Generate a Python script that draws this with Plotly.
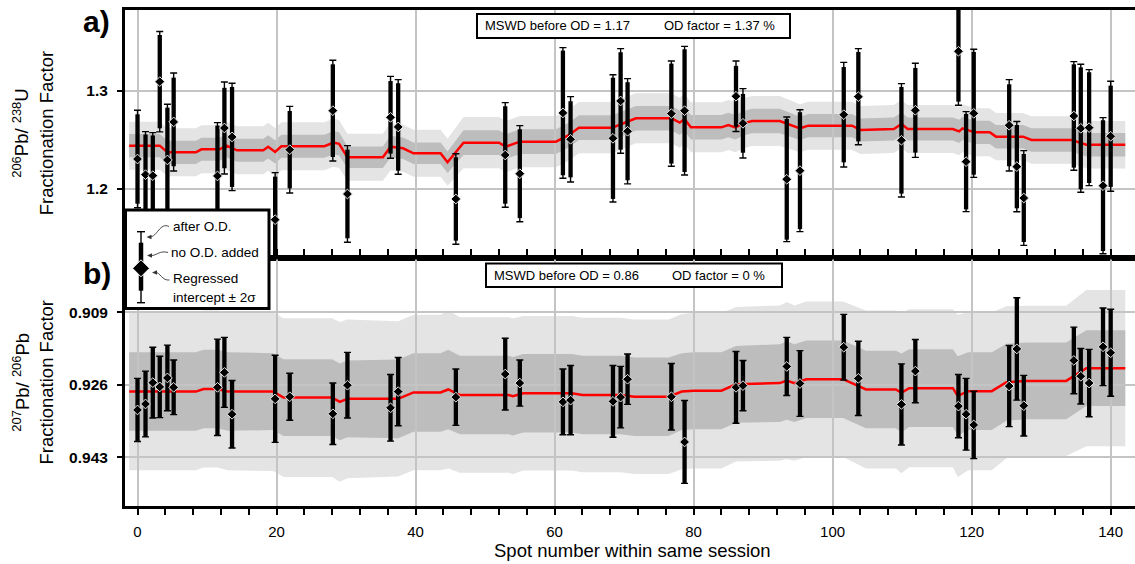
import plotly.graph_objects as go

# ---------------- data ----------------
SPOT = [0.0, 1.15, 2.2, 3.2, 4.3, 5.2, 11.5, 12.5, 13.6, 19.8, 21.9, 28.1, 30.2,
        36.4, 37.5, 45.8, 52.9, 55.0, 61.2, 62.3, 68.4, 69.5, 70.5, 76.8, 78.7,
        86.1, 87.1, 93.4, 95.3, 101.6, 103.7, 109.9, 111.9, 118.1, 119.2, 120.3,
        125.4, 126.5, 127.5, 134.7, 135.7, 136.9, 138.9, 140.0]

# panel a) 206Pb/238U
TOP_VAL = [1.2306, 1.2146, 1.2136, 1.3095, 1.2296, 1.2684, 1.2133, 1.2622, 1.2531,
           1.1687, 1.2401, 1.2799, 1.1949, 1.2731, 1.2633, 1.1898, 1.2347, 1.2156,
           1.2776, 1.2507, 1.2517, 1.2898, 1.2589, 1.2769, 1.2799, 1.2946, 1.2670,
           1.2099, 1.2187, 1.2758, 1.2942, 1.2497, 1.2803, 1.3405, 1.2279, 1.2772,
           1.2650, 1.2228, 1.1908, 1.2745, 1.2619, 1.2626, 1.2034, 1.2538]
TOP_ERR_OD = [0.0497, 0.0439, 0.0439, 0.0512, 0.0568, 0.0500, 0.0544, 0.0469, 0.0548,
              0.0480, 0.0442, 0.0514, 0.0493, 0.0418, 0.0483, 0.0462, 0.0534, 0.0490,
              0.0666, 0.0435, 0.0649, 0.0534, 0.0537, 0.0537, 0.0656, 0.0360, 0.0354,
              0.0636, 0.0622, 0.0534, 0.0490, 0.0578, 0.0480, 0.0551, 0.0510, 0.0653,
              0.0466, 0.0460, 0.0483, 0.0554, 0.0653, 0.0592, 0.0694, 0.0561]
TOP_ERR = [0.0456, 0.0410, 0.0410, 0.0476, 0.0534, 0.0452, 0.0514, 0.0410, 0.0510,
           0.0439, 0.0395, 0.0473, 0.0452, 0.0370, 0.0446, 0.0425, 0.0497, 0.0453,
           0.0636, 0.0388, 0.0618, 0.0497, 0.0500, 0.0510, 0.0626, 0.0310, 0.0300,
           0.0616, 0.0596, 0.0486, 0.0456, 0.0544, 0.0432, 0.0514, 0.0487, 0.0626,
           0.0418, 0.0425, 0.0449, 0.0527, 0.0622, 0.0565, 0.0667, 0.0517]

# panel b) 207Pb/206Pb (no overdispersion added)
BOT_VAL = [0.9319, 0.9305, 0.9255, 0.9265, 0.9244, 0.9266, 0.9266, 0.9231, 0.9329,
           0.9293, 0.9288, 0.9328, 0.9261, 0.9314, 0.9276, 0.9289, 0.9235, 0.9256,
           0.9300, 0.9296, 0.9299, 0.9289, 0.9247, 0.9288, 0.9394, 0.9266, 0.9262,
           0.9217, 0.9257, 0.9172, 0.9245, 0.9306, 0.9228, 0.9310, 0.9329, 0.9354,
           0.9263, 0.9176, 0.9309, 0.9203, 0.9240, 0.9256, 0.9171, 0.9185]
BOT_ERR = [0.0074, 0.0077, 0.0083, 0.0072, 0.0077, 0.0064, 0.0113, 0.0082, 0.0079,
           0.0102, 0.0055, 0.0072, 0.0077, 0.0078, 0.0080, 0.0066, 0.0084, 0.0054,
           0.0077, 0.0081, 0.0084, 0.0072, 0.0059, 0.0078, 0.0097, 0.0084, 0.0059,
           0.0068, 0.0077, 0.0077, 0.0087, 0.0095, 0.0074, 0.0074, 0.0084, 0.0079,
           0.0095, 0.0120, 0.0071, 0.0078, 0.0065, 0.0079, 0.0091, 0.0102]

# running model (red line) and its uncertainty envelopes
TOP_MODEL_X = [-1.2, 3.2, 4.3, 8.4, 9.2, 11.8, 12.8, 14.3, 18.1, 18.8, 19.8, 20.7, 26.9,
               28.2, 29.0, 30.2, 35.3, 36.4, 38.2, 39.7, 43.6, 44.6, 46.9, 52.0, 53.0,
               55.0, 60.2, 61.9, 63.5, 68.3, 71.7, 76.8, 78.0, 78.7, 79.6, 84.0, 85.0,
               86.0, 87.2, 88.4, 92.4, 95.3, 96.5, 102.8, 104.0, 108.8, 109.9, 110.8,
               117.3, 118.2, 118.7, 120.4, 122.6, 123.5, 127.4, 128.6, 134.4, 135.2,
               136.5, 142.1]
TOP_MODEL_Y = [1.2442, 1.2442, 1.2374, 1.2374, 1.2405, 1.2405, 1.2442, 1.2395, 1.2395,
               1.2430, 1.2378, 1.2436, 1.2436, 1.2473, 1.2460, 1.2323, 1.2323, 1.2432,
               1.2415, 1.2364, 1.2364, 1.2272, 1.2473, 1.2473, 1.2432, 1.2483, 1.2483,
               1.2544, 1.2626, 1.2626, 1.2721, 1.2721, 1.2677, 1.2714, 1.2629, 1.2629,
               1.2653, 1.2629, 1.2670, 1.2694, 1.2694, 1.2619, 1.2646, 1.2646, 1.2602,
               1.2612, 1.2663, 1.2612, 1.2612, 1.2588, 1.2619, 1.2578, 1.2578, 1.2534,
               1.2534, 1.2500, 1.2500, 1.2483, 1.2452, 1.2452]
TOP_DARK_HW = [0.0118, 0.0118, 0.0118, 0.0118, 0.0118, 0.0118, 0.0118, 0.0118, 0.0118,
               0.0118, 0.0118, 0.0118, 0.0118, 0.0118, 0.0118, 0.0110, 0.0110, 0.0110,
               0.0110, 0.0110, 0.0110, 0.0110, 0.0127, 0.0127, 0.0127, 0.0127, 0.0127,
               0.0127, 0.0127, 0.0127, 0.0125, 0.0125, 0.0125, 0.0125, 0.0125, 0.0125,
               0.0125, 0.0125, 0.0125, 0.0125, 0.0125, 0.0118, 0.0118, 0.0118, 0.0118,
               0.0118, 0.0118, 0.0118, 0.0118, 0.0118, 0.0118, 0.0118, 0.0118, 0.0120,
               0.0120, 0.0120, 0.0120, 0.0120, 0.0120, 0.0120]
TOP_LIGHT_HW = [0.0245, 0.0245, 0.0245, 0.0245, 0.0245, 0.0245, 0.0245, 0.0245, 0.0245,
                0.0245, 0.0245, 0.0245, 0.0245, 0.0245, 0.0245, 0.0240, 0.0240, 0.0240,
                0.0240, 0.0240, 0.0240, 0.0240, 0.0262, 0.0262, 0.0262, 0.0262, 0.0262,
                0.0262, 0.0262, 0.0262, 0.0255, 0.0255, 0.0255, 0.0255, 0.0255, 0.0255,
                0.0255, 0.0255, 0.0255, 0.0255, 0.0255, 0.0245, 0.0245, 0.0245, 0.0245,
                0.0245, 0.0245, 0.0245, 0.0245, 0.0245, 0.0245, 0.0245, 0.0245, 0.0242,
                0.0242, 0.0242, 0.0242, 0.0242, 0.0242, 0.0242]

BOT_MODEL_X = [-1.2, 8.4, 9.5, 11.5, 13.0, 19.5, 21.0, 28.0, 29.1, 30.2, 37.5, 39.7,
               43.6, 44.7, 46.4, 53.4, 54.0, 55.5, 62.5, 64.0, 69.5, 71.5, 76.4, 78.3,
               80.0, 84.0, 86.1, 92.4, 93.4, 94.5, 96.2, 101.5, 104.8, 109.1, 109.9,
               111.0, 117.3, 118.0, 119.5, 122.9, 125.0, 127.8, 133.6, 136.5, 142.1]
BOT_MODEL_Y = [0.9276, 0.9276, 0.9270, 0.9270, 0.9276, 0.9276, 0.9290, 0.9290, 0.9300,
               0.9293, 0.9293, 0.9278, 0.9278, 0.9271, 0.9284, 0.9284, 0.9287, 0.9280,
               0.9280, 0.9284, 0.9284, 0.9288, 0.9288, 0.9276, 0.9274, 0.9274, 0.9259,
               0.9256, 0.9250, 0.9256, 0.9247, 0.9247, 0.9271, 0.9271, 0.9279, 0.9268,
               0.9268, 0.9286, 0.9275, 0.9275, 0.9254, 0.9251, 0.9251, 0.9221, 0.9221]
BOT_DARK_HW = [0.0092, 0.0092, 0.0092, 0.0092, 0.0092, 0.0090, 0.0090, 0.0090, 0.0090,
               0.0090, 0.0092, 0.0092, 0.0092, 0.0093, 0.0092, 0.0092, 0.0092, 0.0092,
               0.0092, 0.0092, 0.0092, 0.0092, 0.0092, 0.0090, 0.0090, 0.0090, 0.0090,
               0.0091, 0.0092, 0.0091, 0.0091, 0.0091, 0.0091, 0.0091, 0.0092, 0.0091,
               0.0091, 0.0093, 0.0091, 0.0091, 0.0090, 0.0090, 0.0090, 0.0089, 0.0089]
BOT_LIGHT_HW = [0.0184, 0.0184, 0.0184, 0.0184, 0.0184, 0.0186, 0.0186, 0.0186, 0.0187,
                0.0186, 0.0182, 0.0182, 0.0182, 0.0185, 0.0182, 0.0182, 0.0182, 0.0181,
                0.0181, 0.0181, 0.0181, 0.0181, 0.0181, 0.0182, 0.0182, 0.0182, 0.0181,
                0.0182, 0.0184, 0.0182, 0.0182, 0.0182, 0.0185, 0.0185, 0.0188, 0.0185,
                0.0185, 0.0190, 0.0185, 0.0185, 0.0178, 0.0176, 0.0176, 0.0183, 0.0183]

X_TICKS = [0, 20, 40, 60, 80, 100, 120, 140]
TOP_Y_TICKS = [1.2, 1.3]
TOP_Y_TICK_TEXT = ["1.2", "1.3"]
BOT_Y_TICKS = [0.909, 0.926, 0.943]
BOT_Y_TICK_TEXT = ["0.909", "0.926", "0.943"]

# ---------------- styling ----------------
FONT = "Liberation Sans, Arial, Helvetica, sans-serif"
LIGHT = "#e4e4e4"
DARK = "#bdbdbd"
GRID = "#c4c4c4"
W, H = 1135, 564
ML, MR, MT, MB = 125, 0, 10, 58
PW, PH = W - ML - MR, H - MT - MB


def px(x):
    return (x - ML) / PW


def py(y):
    return (MT + PH - y) / PH


def band_path(xs, ys, hw):
    up = [(x, y + h) for x, y, h in zip(xs, ys, hw)]
    lo = [(x, y - h) for x, y, h in zip(xs, ys, hw)][::-1]
    pts = up + lo
    return "M " + " L ".join(f"{a},{b}" for a, b in pts) + " Z"


fig = go.Figure()

# both panels share one x axis ("x"); top panel uses "y", bottom "y2"
panels = [
    ("y", TOP_VAL, TOP_ERR_OD, TOP_ERR, TOP_MODEL_X, TOP_MODEL_Y),
    ("y2", BOT_VAL, BOT_ERR, BOT_ERR, BOT_MODEL_X, BOT_MODEL_Y),
]
for ya, vals, err_od, err, mx, my in panels:
    fig.add_trace(go.Scatter(x=mx, y=my, mode="lines", xaxis="x", yaxis=ya,
                             line=dict(color="#ff0000", width=2.5), hoverinfo="skip"))
    fig.add_trace(go.Scatter(x=SPOT, y=vals, mode="markers", xaxis="x", yaxis=ya,
                             marker=dict(size=1, color="rgba(0,0,0,0)"),
                             error_y=dict(type="data", array=err_od, color="black",
                                          thickness=1.4, width=3.5)))
    fig.add_trace(go.Scatter(x=SPOT, y=vals, mode="markers", xaxis="x", yaxis=ya,
                             marker=dict(size=1, color="rgba(0,0,0,0)"),
                             error_y=dict(type="data", array=err, color="black",
                                          thickness=4.3, width=0)))
    fig.add_trace(go.Scatter(x=SPOT, y=vals, mode="markers", xaxis="x", yaxis=ya,
                             marker=dict(symbol="diamond", size=7.5, color="black",
                                         line=dict(color="#e8e8e8", width=1))))

shapes = []
# uncertainty envelopes (below gridlines)
for yr, mx, my, dhw, lhw in [
    ("y", TOP_MODEL_X, TOP_MODEL_Y, TOP_DARK_HW, TOP_LIGHT_HW),
    ("y2", BOT_MODEL_X, BOT_MODEL_Y, BOT_DARK_HW, BOT_LIGHT_HW),
]:
    shapes.append(dict(type="path", xref="x", yref=yr, path=band_path(mx, my, lhw),
                       fillcolor=LIGHT, line=dict(width=0), layer="below"))
    shapes.append(dict(type="path", xref="x", yref=yr, path=band_path(mx, my, dhw),
                       fillcolor=DARK, line=dict(width=0), layer="below"))

# frame line between the two panels
shapes.append(dict(type="line", xref="paper", yref="paper", x0=0, x1=1, y0=0.5, y1=0.5,
                   line=dict(color="black", width=3), layer="above"))

# MSWD boxes
shapes.append(dict(type="rect", xref="paper", yref="paper", x0=px(477), x1=px(790),
                   y0=py(38), y1=py(14), fillcolor="white",
                   line=dict(color="black", width=2), layer="above"))
shapes.append(dict(type="rect", xref="paper", yref="paper", x0=px(486), x1=px(782),
                   y0=py(287), y1=py(263.5), fillcolor="white",
                   line=dict(color="black", width=2), layer="above"))

# legend box
shapes.append(dict(type="rect", xref="paper", yref="paper", x0=px(125.5), x1=px(269),
                   y0=py(308.5), y1=py(210), fillcolor="white",
                   line=dict(color="black", width=3), layer="above"))
LX = 141
shapes.append(dict(type="line", xref="paper", yref="paper", x0=px(LX), x1=px(LX),
                   y0=py(231.7), y1=py(302.7), line=dict(color="black", width=1.4),
                   layer="above"))
for cy in (231.7, 302.7):
    shapes.append(dict(type="line", xref="paper", yref="paper", x0=px(LX - 4),
                       x1=px(LX + 4), y0=py(cy), y1=py(cy),
                       line=dict(color="black", width=1.4), layer="above"))
shapes.append(dict(type="line", xref="paper", yref="paper", x0=px(LX), x1=px(LX),
                   y0=py(242.7), y1=py(290.7), line=dict(color="black", width=4.5),
                   layer="above"))
dpath = (f"M {px(LX - 8.5)},{py(268.3)} L {px(LX)},{py(259.8)} "
         f"L {px(LX + 8.5)},{py(268.3)} L {px(LX)},{py(276.8)} Z")
shapes.append(dict(type="path", xref="paper", yref="paper", path=dpath,
                   fillcolor="black", line=dict(color="white", width=1), layer="above"))


def curve(p0, c1, c2, p3):
    return (f"M {px(p0[0])},{py(p0[1])} C {px(c1[0])},{py(c1[1])} "
            f"{px(c2[0])},{py(c2[1])} {px(p3[0])},{py(p3[1])}")


for p0, c1, c2, p3 in [
    ((169, 226.5), (160, 222), (157, 237), (150, 237)),
    ((168, 252.5), (160, 250), (156, 256), (151, 255.5)),
    ((169.5, 280), (162, 281), (160, 272), (155.5, 272.5)),
]:
    shapes.append(dict(type="path", xref="paper", yref="paper", path=curve(p0, c1, c2, p3),
                       line=dict(color="#333333", width=0.9), layer="above"))

# small arrowheads (triangles) at the curve tips
for tx, ty in [(146.5, 237), (147, 255.5), (152, 272.5)]:
    tri = (f"M {px(tx)},{py(ty)} L {px(tx + 5)},{py(ty - 2.3)} "
           f"L {px(tx + 5)},{py(ty + 2.3)} Z")
    shapes.append(dict(type="path", xref="paper", yref="paper", path=tri,
                       fillcolor="#333333", line=dict(width=0), layer="above"))

annotations = []
leg_font = dict(family=FONT, size=13.5, color="black")
for txt, lx, ly in [("after O.D.", 171.5, 226.7), ("no O.D. added", 170, 252.3),
                    ("Regressed", 171.5, 278.3), ("intercept ± 2σ", 171.5, 297.3)]:
    annotations.append(dict(xref="paper", yref="paper", x=px(lx), y=py(ly), text=txt,
                            showarrow=False, xanchor="left", yanchor="middle",
                            font=leg_font, borderpad=0))

box_font = dict(family=FONT, size=13, color="black")
for txt, lx, ly in [("MSWD before OD = 1.17", 484, 26), ("OD factor = 1.37 %", 662.5, 26),
                    ("MSWD before OD = 0.86", 492.5, 275.3), ("OD factor = 0 %", 671, 275.3)]:
    annotations.append(dict(xref="paper", yref="paper", x=px(lx), y=py(ly), text=txt,
                            showarrow=False, xanchor="left", yanchor="middle",
                            font=box_font, borderpad=0))

# panel letters
for txt, cy in [("a)", 22), ("b)", 273)]:
    annotations.append(dict(xref="paper", yref="paper", x=px(96.5), y=py(cy), text=txt,
                            showarrow=False, xanchor="center", yanchor="middle",
                            font=dict(family=FONT, size=30, color="black", weight="bold")))

# y titles
title_font = dict(family=FONT, size=18.5, color="black")
for txt, cy in [("<sup>206</sup>Pb/ <sup>238</sup>U<br>Fractionation Factor", 133.3),
                ("<sup>207</sup>Pb/ <sup>206</sup>Pb<br>Fractionation Factor", 382.5)]:
    annotations.append(dict(xref="paper", yref="paper", x=px(33), y=py(cy), text=txt,
                            showarrow=False, xanchor="center", yanchor="middle",
                            textangle=-90, font=title_font))
# x title
annotations.append(dict(xref="paper", yref="paper", x=px(632), y=py(550),
                        text="Spot number within same session", showarrow=False,
                        xanchor="center", yanchor="middle", font=title_font))

fig.update_layout(
    width=W, height=H, autosize=False,
    margin=dict(l=ML, r=MR, t=MT, b=MB),
    paper_bgcolor="white", plot_bgcolor="white",
    showlegend=False,
    font=dict(family=FONT, color="black"),
    xaxis=dict(domain=[0, 1], anchor="y2", range=[-1.8, 143.5], tickvals=X_TICKS,
               showgrid=True, gridcolor=GRID, gridwidth=1.5, zeroline=False,
               showline=True, linecolor="black", linewidth=3, mirror="all",
               ticks="outside", ticklen=6, tickwidth=2, tickcolor="black",
               ticklabelstandoff=4,
               tickfont=dict(family=FONT, size=15, color="black"),
               minor=dict(dtick=4, tick0=0, ticks="outside", ticklen=6, tickwidth=2,
                          tickcolor="black", showgrid=False)),
    yaxis=dict(domain=[0.5, 1], anchor="x", range=[1.1296, 1.3826], tickvals=TOP_Y_TICKS,
               ticktext=TOP_Y_TICK_TEXT, ticks="outside", ticklen=5, tickwidth=1.5,
               tickcolor="black", showgrid=True, gridcolor=GRID, gridwidth=1.5,
               zeroline=False, showline=True, linecolor="black", linewidth=3,
               ticklabelstandoff=6,
               tickfont=dict(family=FONT, size=15.5, color="black", weight="bold")),
    yaxis2=dict(domain=[0, 0.5], anchor="x", range=[0.9544, 0.8963],
                tickvals=BOT_Y_TICKS, ticktext=BOT_Y_TICK_TEXT, ticks="outside",
                ticklen=5, tickwidth=1.5, tickcolor="black", showgrid=True,
                gridcolor=GRID, gridwidth=1.5, zeroline=False, showline=True,
                linecolor="black", linewidth=3, ticklabelstandoff=6,
                tickfont=dict(family=FONT, size=15.5, color="black", weight="bold")),
    shapes=shapes,
    annotations=annotations,
)

fig.write_html("out.html")
